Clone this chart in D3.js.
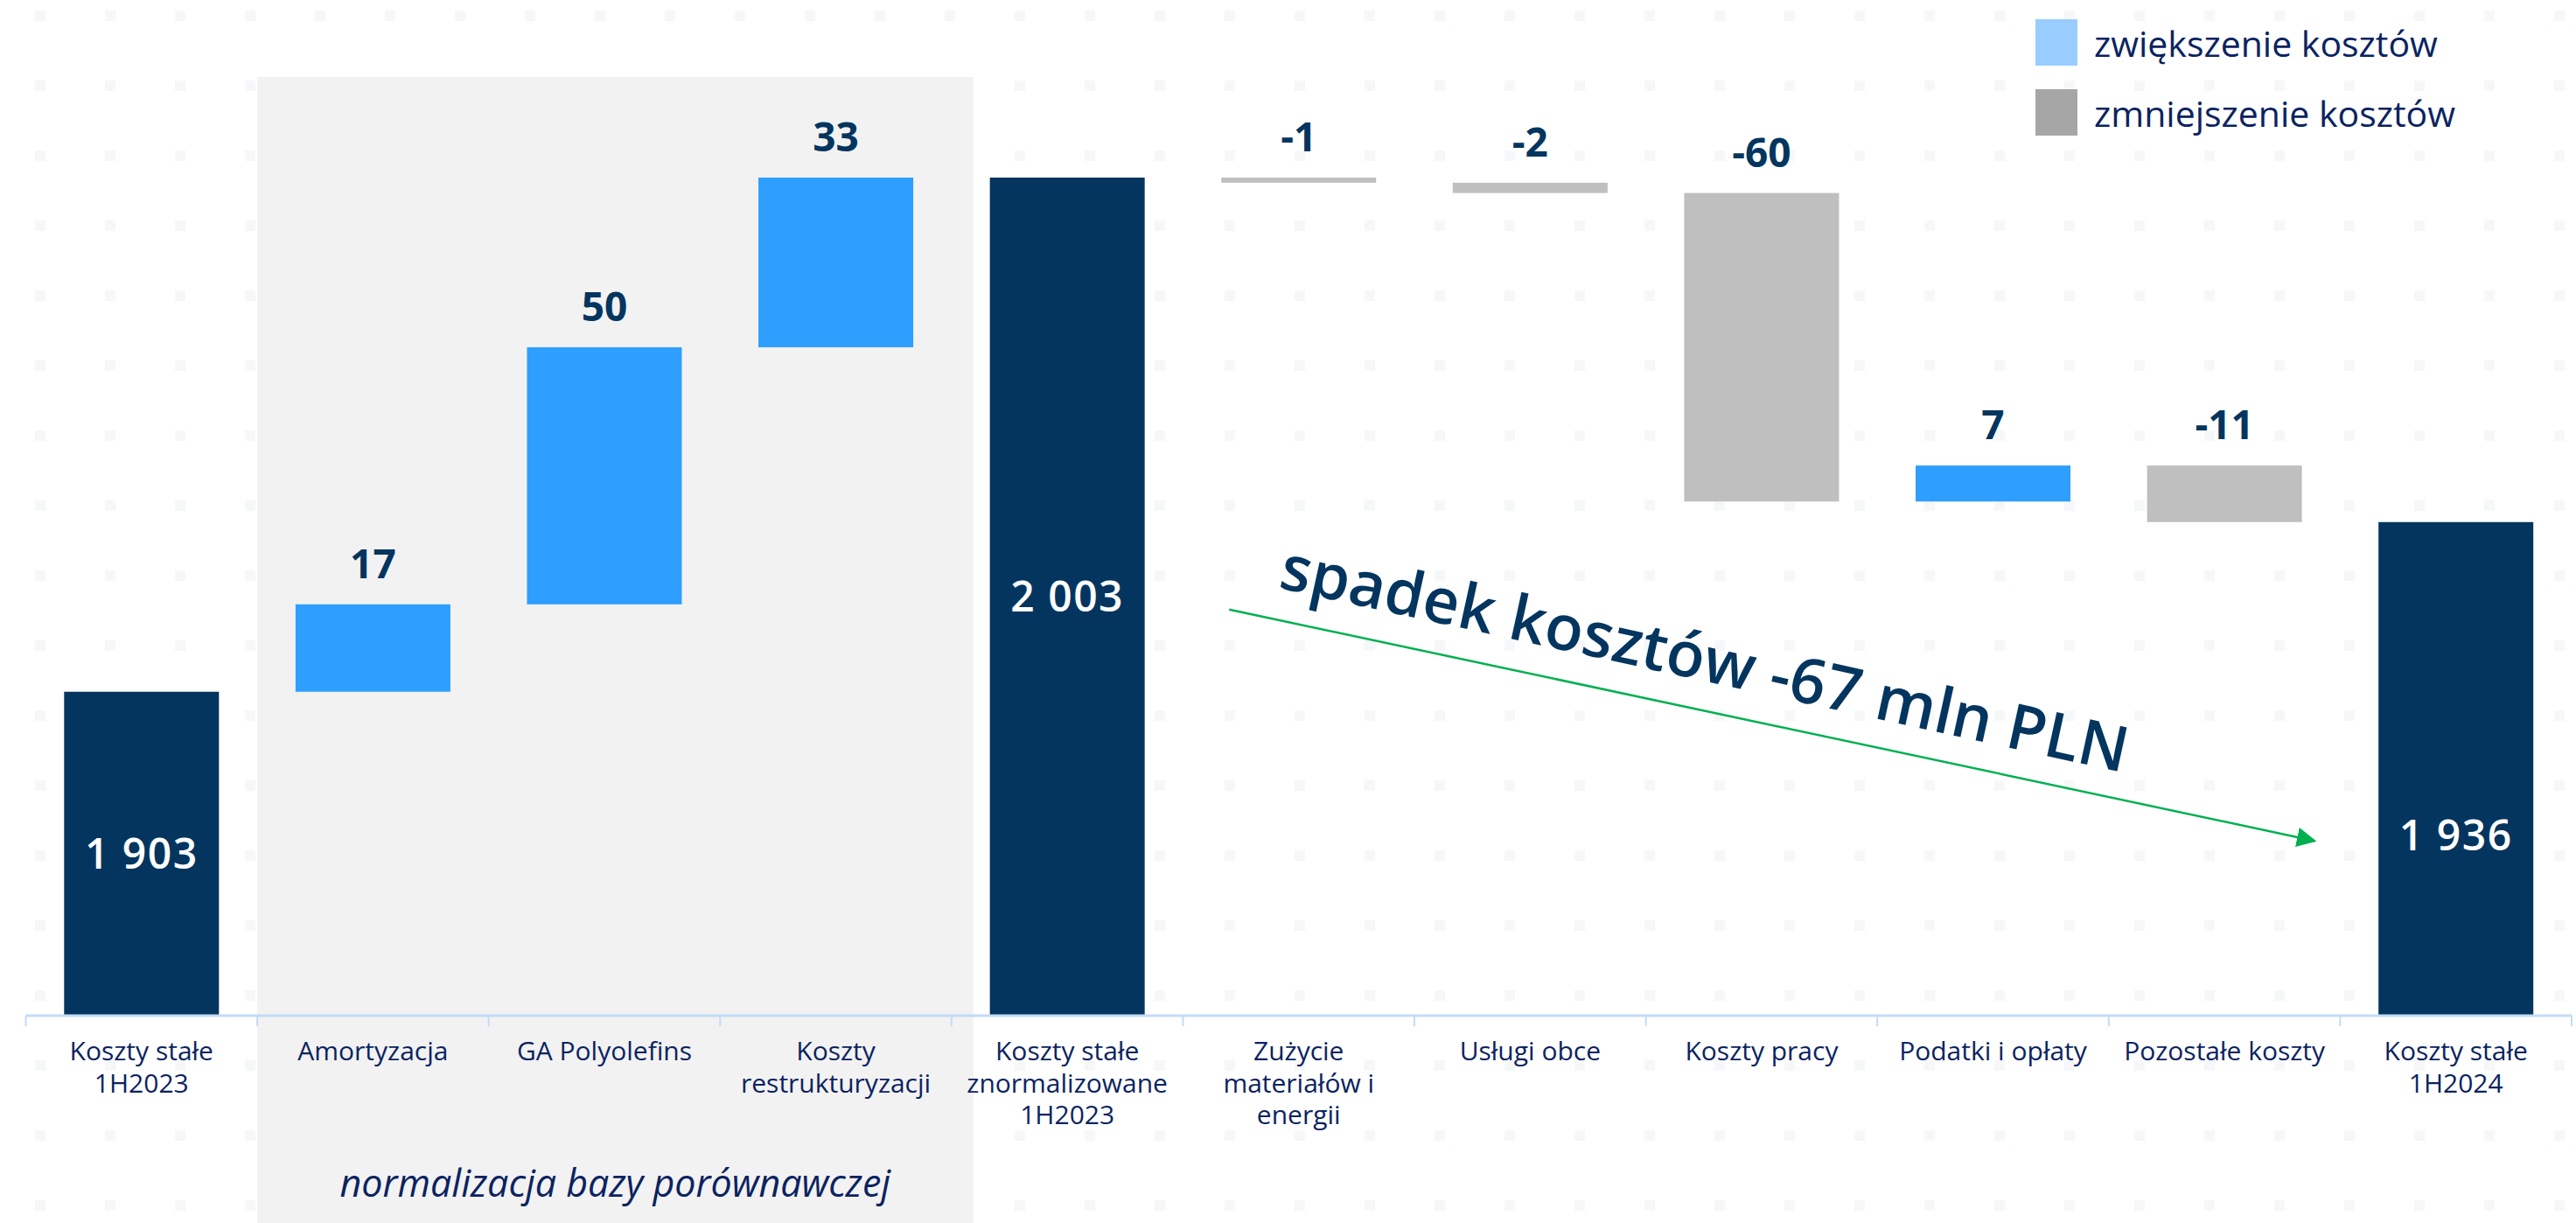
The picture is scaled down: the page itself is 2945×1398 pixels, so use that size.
<!DOCTYPE html>
<html>
<head>
<meta charset="utf-8">
<script src="https://cdn.jsdelivr.net/npm/d3@7"></script>
<style>
  body { margin: 0; background: #fff; }
  svg { display: block; }
</style>
</head>
<body>
<svg width="2945" height="1398"></svg>
<script>
// categories (line breaks as in the slide)
var categories = [
  'Koszty stałe\n1H2023',
  'Amortyzacja',
  'GA Polyolefins',
  'Koszty\nrestrukturyzacji',
  'Koszty stałe\nznormalizowane\n1H2023',
  'Zużycie\nmateriałów i\nenergii',
  'Usługi obce',
  'Koszty pracy',
  'Podatki i opłaty',
  'Pozostałe koszty',
  'Koszty stałe\n1H2024'
];
var kinds = ['total', 'delta', 'delta', 'delta', 'total', 'delta', 'delta', 'delta', 'delta', 'delta', 'total'];
var values = [1903, 17, 50, 33, 2003, -1, -2, -60, 7, -11, 1936];

var legendLabels = ['zwiększenie kosztów', 'zmniejszenie kosztów'];
var groupLabel = 'normalizacja bazy porównawczej';
var noteText = 'spadek kosztów -67 mln PLN';
var yBase = 1840;   // broken axis: bars start here
var yTop = 2003;

var navy = '#03355f', blue = '#2e9eff', grey = '#bfbfbf', textBlue = '#0b2361';

// running totals for the waterfall
var running = 0;
var steps = values.map((v, i) => {
  var s;
  if (kinds[i] === 'total') {
    s = { start: yBase, end: v };
    running = v;
  } else {
    s = { start: running, end: running + v };
    running += v;
  }
  s.cat = categories[i];
  s.kind = kinds[i];
  s.value = v;
  return s;
});

var svg = d3.select('svg');

var x = d3.scaleBand()
  .domain(categories)
  .range([29.5, 2940])
  .paddingInner(0.331)
  .paddingOuter(0.1655);

var y = d3.scaleLinear()
  .domain([yBase, yTop])
  .range([1161, 203]);

// faint dot texture of the slide
var defs = svg.append('defs');
defs.append('pattern')
  .attr('id', 'dots')
  .attr('patternUnits', 'userSpaceOnUse')
  .attr('width', 80).attr('height', 80)
  .append('rect')
    .attr('x', 40).attr('y', 12)
    .attr('width', 12).attr('height', 12)
    .attr('fill', '#f6f7f9');
defs.append('marker')
  .attr('id', 'arrowhead')
  .attr('viewBox', '0 0 10 10')
  .attr('refX', 9).attr('refY', 5)
  .attr('markerWidth', 9).attr('markerHeight', 9)
  .attr('markerUnits', 'strokeWidth')
  .attr('orient', 'auto')
  .append('path')
    .attr('d', 'M0,0 L10,5 L0,10 z')
    .attr('fill', '#00b050');

svg.append('rect')
  .attr('width', 2945).attr('height', 1398)
  .attr('fill', 'url(#dots)');

// grey band behind the normalisation steps
var shadeLeft = x(categories[1]) - x.step() * x.paddingInner() / 2;
var shadeRight = x(categories[4]) - 19;
svg.append('rect')
  .attr('x', shadeLeft)
  .attr('y', 88)
  .attr('width', shadeRight - shadeLeft)
  .attr('height', 1398 - 88)
  .attr('fill', '#f2f2f2');

svg.append('text')
  .attr('x', (shadeLeft + shadeRight) / 2)
  .attr('y', 1368)
  .attr('text-anchor', 'middle')
  .attr('font-family', 'Open Sans')
  .attr('font-style', 'italic')
  .attr('font-size', 43)
  .attr('fill', textBlue)
  .text(groupLabel);

// bars
svg.selectAll('rect.bar')
  .data(steps)
  .enter()
  .append('rect')
    .attr('class', 'bar')
    .attr('x', d => x(d.cat))
    .attr('y', d => y(Math.max(d.start, d.end)))
    .attr('width', x.bandwidth())
    .attr('height', d => Math.abs(y(d.start) - y(d.end)))
    .attr('fill', d => d.kind === 'total' ? navy : (d.value >= 0 ? blue : grey));

// labels inside totals
var fmtTotal = v => d3.format(',')(v).replace(/,/g, ' ');
svg.selectAll('text.total')
  .data(steps.filter(d => d.kind === 'total'))
  .enter()
  .append('text')
    .attr('class', 'total')
    .attr('x', d => x(d.cat) + x.bandwidth() / 2)
    .attr('y', (d, i, arr) => (y(d.start) + y(d.end)) / 2 + 17 + (i === arr.length - 1 ? 76 : 0))
    .attr('text-anchor', 'middle')
    .attr('font-family', 'Open Sans')
    .attr('font-weight', 600)
    .attr('font-size', 48)
    .attr('letter-spacing', 1.5)
    .attr('fill', '#fff')
    .text(d => fmtTotal(d.value));

// labels above the steps (plain hyphen for negatives, as on the slide)
svg.selectAll('text.delta')
  .data(steps.filter(d => d.kind === 'delta'))
  .enter()
  .append('text')
    .attr('class', 'delta')
    .attr('x', d => x(d.cat) + x.bandwidth() / 2)
    .attr('y', d => y(Math.max(d.start, d.end)) - 30)
    .attr('text-anchor', 'middle')
    .attr('font-family', 'Open Sans')
    .attr('font-weight', 700)
    .attr('font-size', 46)
    .attr('fill', navy)
    .text(d => String(d.value));

// category axis
var axis = svg.append('g')
  .attr('transform', 'translate(0,' + y(yBase) + ')');
axis.append('line')
  .attr('x1', x.range()[0]).attr('x2', x.range()[1])
  .attr('stroke', '#c2dcf7').attr('stroke-width', 3);
axis.selectAll('line.tick')
  .data(d3.range(categories.length + 1))
  .enter()
  .append('line')
    .attr('class', 'tick')
    .attr('x1', i => x.range()[0] + i * x.step())
    .attr('x2', i => x.range()[0] + i * x.step())
    .attr('y1', 0).attr('y2', 12)
    .attr('stroke', '#c2dcf7').attr('stroke-width', 2);

var catLabels = axis.selectAll('text.cat')
  .data(categories)
  .enter()
  .append('text')
    .attr('class', 'cat')
    .attr('x', d => x(d) + x.bandwidth() / 2)
    .attr('y', 51)
    .attr('text-anchor', 'middle')
    .attr('font-family', 'Open Sans')
    .attr('font-size', 30)
    .attr('fill', textBlue);
catLabels.selectAll('tspan')
  .data(d => d.split('\n'))
  .enter()
  .append('tspan')
    .attr('x', function () { return d3.select(this.parentNode).attr('x'); })
    .attr('dy', (d, i) => i === 0 ? 0 : 36.5)
    .text(d => d);

// arrow and note for the cost decrease
var arrowFrom = [x(categories[5]) + 9, y(1919)];
var arrowTo = [x(categories[10]) - 73, y(1874)];
svg.append('line')
  .attr('x1', arrowFrom[0]).attr('y1', arrowFrom[1])
  .attr('x2', arrowTo[0]).attr('y2', arrowTo[1])
  .attr('stroke', '#00b050')
  .attr('stroke-width', 2.5)
  .attr('marker-end', 'url(#arrowhead)');

var angle = Math.atan2(arrowTo[1] - arrowFrom[1], arrowTo[0] - arrowFrom[0]) * 180 / Math.PI;
svg.append('text')
  .attr('transform', 'translate(' + (arrowFrom[0] + 55) + ',' + (arrowFrom[1] - 25) + ') rotate(' + (angle + 0.3) + ')')
  .attr('font-family', 'Open Sans')
  .attr('font-weight', 600)
  .attr('font-size', 72)
  .attr('fill', navy)
  .text(noteText);

// legend
var legend = svg.append('g')
  .selectAll('g')
  .data(legendLabels)
  .enter()
  .append('g')
    .attr('transform', (d, i) => 'translate(2327,' + (22 + i * 80) + ')');
legend.append('rect')
  .attr('width', 48).attr('height', 53)
  .attr('fill', (d, i) => i === 0 ? '#99ccff' : '#a6a6a6');
legend.append('text')
  .attr('x', 67).attr('y', 43)
  .attr('font-family', 'Open Sans')
  .attr('font-size', 41)
  .attr('fill', textBlue)
  .text(d => d);
</script>
</body>
</html>
